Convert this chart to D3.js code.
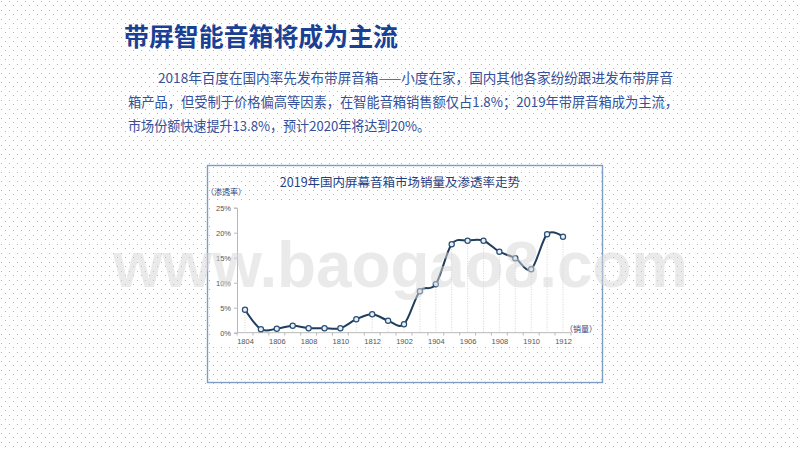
<!DOCTYPE html>
<html><head><meta charset="utf-8">
<script src="https://cdn.jsdelivr.net/npm/d3@7"></script>
<style>html,body{margin:0;padding:0;background:#fff;}svg{display:block;}</style>
</head><body>
<svg id="c" width="800" height="450"></svg>
<script>
const categories = ["1804","1805","1806","1807","1808","1809","1810","1811","1812","1901","1902","1903","1904","1905","1906","1907","1908","1909","1910","1911","1912"];
const penetration = [4.6,0.7,0.8,1.4,0.9,0.9,0.9,2.7,3.7,2.4,1.7,8.3,9.7,17.7,18.4,18.4,16.2,14.9,12.7,19.7,19.2];
const xTickLabels = ["1804","1806","1808","1810","1812","1902","1904","1906","1908","1910","1912"];
const yTicks = [0,5,10,15,20,25];
const pageTitle = "带屏智能音箱将成为主流";
const paragraph = [
  "2018年百度在国内率先发布带屏音箱——小度在家，国内其他各家纷纷跟进发布带屏音",
  "箱产品，但受制于价格偏高等因素，在智能音箱销售额仅占1.8%；2019年带屏音箱成为主流，",
  "市场份额快速提升13.8%，预计2020年将达到20%。"
];
const chartTitle = "2019年国内屏幕音箱市场销量及渗透率走势";
const yAxisTitle = "（渗透率）";
const xAxisTitle = "（销量）";
const watermark = "www.baogao8.com";

const svg = d3.select("#c");
const defs = svg.append("defs");
const pat = defs.append("pattern").attr("id","dots").attr("patternUnits","userSpaceOnUse")
  .attr("width",8).attr("height",9);
pat.append("rect").attr("x",1).attr("y",1).attr("width",1).attr("height",1).attr("fill","#bcaeb5");
pat.append("rect").attr("x",5).attr("y",5).attr("width",1).attr("height",1).attr("fill","#bcaeb5");

svg.append("rect").attr("width",800).attr("height",450).attr("fill","#fff");
svg.append("rect").attr("width",800).attr("height",450).attr("fill","url(#dots)");

const cjk = "'Noto Sans CJK SC','Noto Sans',sans-serif";

// page title
svg.append("text").attr("x",124).attr("y",46).attr("font-family",cjk).attr("font-weight","bold")
  .attr("font-size",25).attr("fill","#1b3f93").attr("textLength",274).attr("lengthAdjust","spacingAndGlyphs")
  .text(pageTitle);

// paragraph
const paraX = [158,128,128], paraW = [515,550,302];
paragraph.forEach((t,i)=>{
  svg.append("text").attr("x",paraX[i]).attr("y",83+i*24).attr("font-family",cjk)
    .attr("font-size",13.5).attr("fill","#33509a").attr("textLength",paraW[i]).attr("lengthAdjust","spacingAndGlyphs")
    .text(t);
});

// chart box
svg.append("rect").attr("x",207.5).attr("y",165.5).attr("width",395).attr("height",217)
  .attr("fill","none").attr("stroke","#7d9cc6").attr("stroke-width",1.4);
svg.append("rect").attr("x",211).attr("y",200).attr("width",380).attr("height",146).attr("fill","#fff");

svg.append("text").attr("x",400).attr("y",187).attr("text-anchor","middle").attr("font-family",cjk)
  .attr("font-size",12.5).attr("fill","#1f3f7f").text(chartTitle);

const x = d3.scalePoint().domain(categories).range([245,563]);
const y = d3.scaleLinear().domain([0,25]).range([332.7,207.7]);
const step = x.step();

svg.append("text").attr("x",206).attr("y",195).attr("font-family",cjk).attr("font-size",8)
  .attr("fill","#1f3f7f").text(yAxisTitle);
svg.append("text").attr("x",565).attr("y",332).attr("font-family",cjk).attr("font-size",8)
  .attr("fill","#1f3f7f").text(xAxisTitle);

// y axis
const yAxis = d3.axisLeft(y).tickValues(yTicks).tickFormat(d=>d+"%").tickSize(3).tickPadding(3);
const gy = svg.append("g").attr("transform","translate(237,0)").call(yAxis);
gy.select(".domain").attr("stroke","#b8b8b8");
gy.selectAll(".tick line").attr("stroke","#b8b8b8");
gy.selectAll("text").attr("font-family","'Liberation Sans',sans-serif").attr("font-size",7.5).attr("fill","#555");

// x axis
const xAxis = d3.axisBottom(x).tickValues(xTickLabels).tickSize(0).tickPadding(6);
const gx = svg.append("g").attr("transform","translate(0,332.7)").call(xAxis);
gx.select(".domain").remove();
gx.selectAll("text").attr("font-family","'Liberation Sans',sans-serif").attr("font-size",7.5).attr("fill","#555");
svg.append("line").attr("x1",237).attr("x2",x(categories[categories.length-1])+step/2)
  .attr("y1",332.7).attr("y2",332.7).attr("stroke","#b8b8b8");
svg.append("g").selectAll("line").data(categories.concat(["_end"])).join("line")
  .attr("x1",(d,i)=>245 - step/2 + i*step).attr("x2",(d,i)=>245 - step/2 + i*step)
  .attr("y1",332.7).attr("y2",335.5).attr("stroke","#b8b8b8");

// drop lines
svg.append("g").selectAll("line").data(categories).join("line")
  .attr("x1",d=>x(d)).attr("x2",d=>x(d))
  .attr("y1",(d,i)=>y(penetration[i])).attr("y2",332.7)
  .attr("stroke","#c8c8c8").attr("stroke-width",0.8).attr("stroke-dasharray","1,1.5");

// line
const line = d3.line().x((d,i)=>x(categories[i])).y(d=>y(d)).curve(d3.curveCardinal.tension(0));
svg.append("path").datum(penetration).attr("d",line).attr("fill","none")
  .attr("stroke","#1f3d5e").attr("stroke-width",2);
svg.append("g").selectAll("circle").data(penetration).join("circle")
  .attr("cx",(d,i)=>x(categories[i])).attr("cy",d=>y(d)).attr("r",2.6)
  .attr("fill","#e8f0f6").attr("stroke","#2a4f75").attr("stroke-width",1.2);

// watermark
svg.append("text").attr("x",113).attr("y",287).attr("font-family","'Liberation Sans',Arial,sans-serif")
  .attr("font-weight","bold").attr("font-size",64).attr("fill","#d6d6d6").attr("fill-opacity",0.5)
  .attr("textLength",575).attr("lengthAdjust","spacingAndGlyphs").text(watermark);
</script>
</body></html>
